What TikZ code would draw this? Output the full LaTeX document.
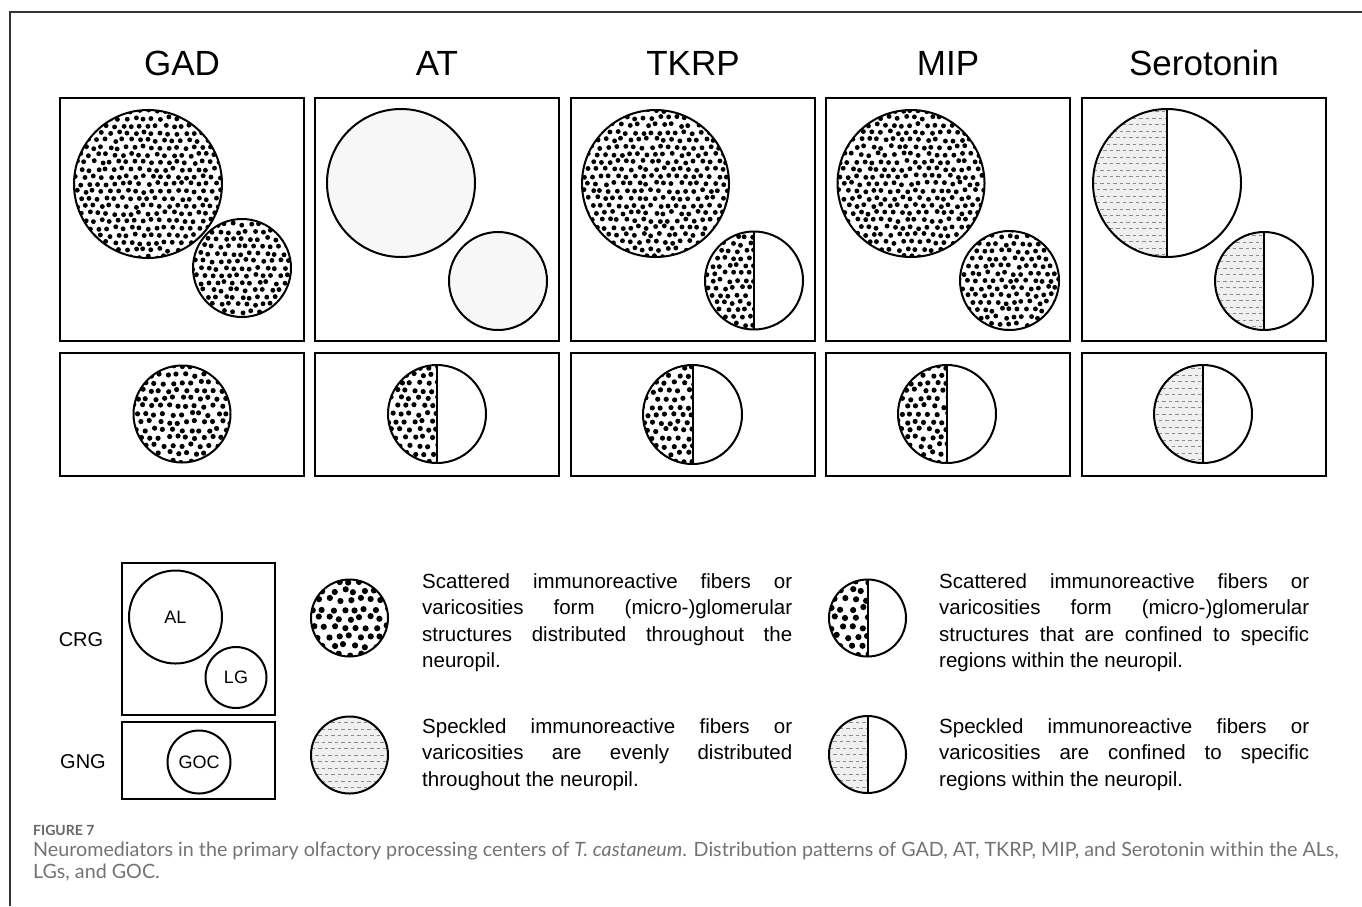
\documentclass[tikz,border=0pt]{standalone}
\usepackage{fontspec}
\setmainfont{Liberation Sans}
\newfontfamily\capfont{Lato}
\usepackage{xcolor}
\usepackage{tikz}
\usetikzlibrary{positioning,calc}

\pgfmathsetseed{42}

% stippled fill: grid half count, spacing, dot radius
\newcommand{\dotsin}[3]{%
  \begin{scope}[shift={(path picture bounding box.center)}]
    \foreach \i in {-#1,...,#1}{
      \foreach \j in {-#1,...,#1}{
        \fill ({(\i+0.5*abs(mod(\j,2)))*#2+0.18*#2*rand},{0.87*\j*#2+0.18*#2*rand}) circle (#3pt);
      }}
  \end{scope}}

% speckled fill: rows of short grey dashes
\newcommand{\specklein}[1]{%
  \fill[black!6] (path picture bounding box.south west) rectangle (path picture bounding box.north east);
  \begin{scope}[shift={(path picture bounding box.center)}]
    \foreach \k in {-#1,...,#1}{
      \draw[black!45, line width=0.8pt, dash pattern=on 3.5pt off 3pt] ({-80+3.2*abs(mod(\k,2))},{\k*6.5}) -- (80,{\k*6.5});
    }
  \end{scope}}

% left half only, then the dividing line
\newcommand{\lefthalf}[1]{%
  \begin{scope}
    \clip (path picture bounding box.north west) rectangle (path picture bounding box.south);
    #1
  \end{scope}
  \draw[line width=2pt] (path picture bounding box.north) -- (path picture bounding box.south);}

\begin{document}
\begin{tikzpicture}[
    x=1pt, y=-1pt,
    title/.style={font=\fontsize{35}{40}\selectfont, anchor=base},
    panel/.style={rectangle, draw, line width=2.2pt, minimum width=244pt, inner sep=0pt},
    glom/.style={circle, draw, line width=2pt, inner sep=0pt, minimum size=#1},
    bigdots/.style={path picture={\dotsin{10}{8.4}{2.45}}},
    smalldots/.style={path picture={\dotsin{7}{8.4}{2.45}}},
    lowdots/.style={path picture={\dotsin{6}{9}{2.6}}},
    halfbig/.style={path picture={\lefthalf{\dotsin{7}{8.4}{2.45}}}},
    halflow/.style={path picture={\lefthalf{\dotsin{6}{9}{2.6}}}},
    halfspeck/.style={path picture={\lefthalf{\specklein{12}}}},
    faint/.style={fill=black!3},
    legenddots/.style={path picture={\dotsin{5}{10.5}{3.1}}},
    legendhalf/.style={path picture={\lefthalf{\dotsin{5}{10.5}{3.1}}}},
    legendspeck/.style={path picture={\specklein{7}}},
    legendhalfspeck/.style={path picture={\lefthalf{\specklein{7}}}},
    region/.style={font=\fontsize{20}{24}\selectfont},
    legendtext/.style={font=\fontsize{20.5}{26.5}\selectfont, text width=370pt, align=justify, inner sep=0pt, anchor=base west}
]
    \useasboundingbox (0,0) rectangle (1362,906);

    % frame of the figure
    \coordinate (frameBL) at (10,906);
    \coordinate (frameTR) at (1362,12);
    \draw[line width=1.5pt, black!80] (frameBL) |- (frameTR);

    % column titles
    \node[title] (tGAD) at (182,75) {GAD};
    \node[title] (tAT) at (437,75) {AT};
    \node[title] (tTKRP) at (693,75) {TKRP};
    \node[title] (tMIP) at (948,75) {MIP};
    \node[title] (tSer) at (1204,75) {Serotonin};

    % CRG panels (top row)
    \node[panel, minimum height=243pt] (pGAD) at (182,219.5) {};
    \node[panel, minimum height=243pt] (pAT) at (437,219.5) {};
    \node[panel, minimum height=243pt] (pTKRP) at (693,219.5) {};
    \node[panel, minimum height=243pt] (pMIP) at (948,219.5) {};
    \node[panel, minimum height=243pt] (pSer) at (1204,219.5) {};

    % GNG panels (bottom row)
    \node[panel, minimum height=123pt] (gGAD) at (182,414.5) {};
    \node[panel, minimum height=123pt] (gAT) at (437,414.5) {};
    \node[panel, minimum height=123pt] (gTKRP) at (693,414.5) {};
    \node[panel, minimum height=123pt] (gMIP) at (948,414.5) {};
    \node[panel, minimum height=123pt] (gSer) at (1204,414.5) {};

    % GAD
    \node[glom=148pt, bigdots] (alGAD) at (148,184) {};
    \node[glom=98pt, smalldots] (lgGAD) at (242,268) {};
    \node[glom=97pt, lowdots] (gocGAD) at (182,414) {};

    % AT
    \node[glom=148pt, faint] (alAT) at (401,183) {};
    \node[glom=98pt, faint] (lgAT) at (498,281) {};
    \node[glom=98pt, halflow] (gocAT) at (437,414) {};

    % TKRP
    \node[glom=147pt, bigdots] (alTKRP) at (655.5,183.5) {};
    \node[glom=98pt, halfbig] (lgTKRP) at (754,280.5) {};
    \node[glom=99pt, halflow] (gocTKRP) at (692.5,414.5) {};

    % MIP
    \node[glom=147pt, bigdots] (alMIP) at (911,183.5) {};
    \node[glom=99pt, smalldots] (lgMIP) at (1009.5,280.5) {};
    \node[glom=98pt, halflow] (gocMIP) at (947,414) {};

    % Serotonin
    \node[glom=148pt, halfspeck] (alSer) at (1167,183) {};
    \node[glom=98pt, halfspeck] (lgSer) at (1264,281) {};
    \node[glom=98pt, halfspeck] (gocSer) at (1203,414) {};

    % key: neuropils
    \node[region] (crg) at (81,640) {CRG};
    \node[region] (gng) at (83,762) {GNG};
    \node[panel, minimum width=153pt, minimum height=152pt] (keyCRG) at (198.5,639) {};
    \node[panel, minimum width=153pt, minimum height=77pt] (keyGNG) at (198.5,760.5) {};
    \node[glom=93pt, font=\fontsize{18}{22}\selectfont] (keyAL) at (175.5,617) {AL};
    \node[glom=61pt, font=\fontsize{18}{22}\selectfont] (keyLG) at (236,677.5) {LG};
    \node[glom=63pt, font=\fontsize{18}{22}\selectfont] (keyGOC) at (199,762) {GOC};

    % key: patterns
    \node[glom=77pt, legenddots] (keyDots) at (349.5,618) {};
    \node[glom=77pt, legendspeck] (keySpeck) at (349.5,755) {};
    \node[glom=77pt, legendhalf] (keyHalfDots) at (867.5,618) {};
    \node[glom=77pt, legendhalfspeck] (keyHalfSpeck) at (867.5,754.5) {};

    % key: descriptions
    \node[legendtext] (txtDots) at (422,588) {Scattered immunoreactive fibers or\linebreak varicosities form (micro-)glomerular\linebreak structures distributed throughout the\linebreak neuropil.};
    \node[legendtext] (txtSpeck) at (422,733) {Speckled immunoreactive fibers or\linebreak varicosities are evenly distributed\linebreak throughout the neuropil.};
    \node[legendtext] (txtHalfDots) at (939,588) {Scattered immunoreactive fibers or\linebreak varicosities form (micro-)glomerular\linebreak structures that are confined to specific\linebreak regions within the neuropil.};
    \node[legendtext] (txtHalfSpeck) at (939,733) {Speckled immunoreactive fibers or\linebreak varicosities are confined to specific\linebreak regions within the neuropil.};

    % caption
    \node[anchor=base west, inner sep=0pt, font=\capfont\bfseries\fontsize{14}{16}\selectfont, text=black!60] (figno) at (33,835) {FIGURE 7};
    \node[anchor=base west, inner sep=0pt, align=left, font=\capfont\fontsize{19.7}{22.5}\selectfont, text=black!55] (caption) at (33,878.5) {Neuromediators in the primary olfactory processing centers of \textit{T. castaneum}. Distribution patterns of GAD, AT, TKRP, MIP, and Serotonin within the ALs,\\LGs, and GOC.};
\end{tikzpicture}
\end{document}
